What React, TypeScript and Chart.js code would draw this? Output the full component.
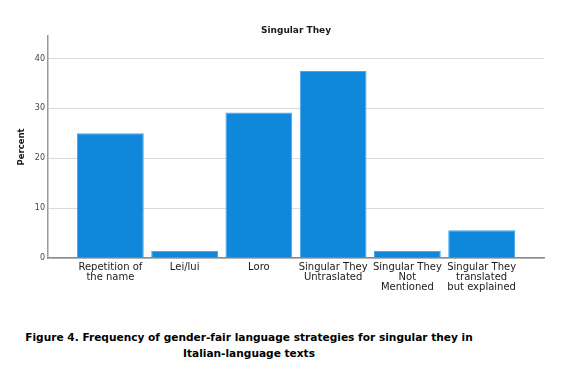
import React, { useEffect, useRef } from "react";
import { Chart, registerables } from "chart.js";

Chart.register(...registerables);

const categories: string[][] = [
  ["Repetition of", "the name"],
  ["Lei/lui"],
  ["Loro"],
  ["Singular They", "Untraslated"],
  ["Singular They", "Not", "Mentioned"],
  ["Singular They", "translated", "but explained"],
];
const percentValues: number[] = [25.0, 1.39, 29.17, 37.5, 1.39, 5.56];
const yTicks: number[] = [0, 10, 20, 30, 40];
const chartTitle = "Singular They";
const yAxisTitle = "Percent";
const captionLines = [
  "Figure 4. Frequency of gender-fair language strategies for singular they in",
  "Italian-language texts",
];

const titlePlugin = {
  id: "centerTitle",
  afterDraw(chart: any) {
    const { ctx, chartArea } = chart;
    ctx.save();
    ctx.font = "bold 9px 'DejaVu Sans'";
    ctx.fillStyle = "#1a1a1a";
    ctx.textAlign = "center";
    ctx.textBaseline = "middle";
    ctx.fillText(chartTitle, (chartArea.left + chartArea.right) / 2, 30.5);
    ctx.restore();
  },
};

export default function App() {
  const ref = useRef<HTMLCanvasElement | null>(null);
  useEffect(() => {
    if (!ref.current) return;
    const chart = new Chart(ref.current, {
      type: "bar",
      data: {
        datasets: [
          {
            data: percentValues.map((v, i) => ({ x: i, y: v })),
            backgroundColor: "#0f88dc",
            borderColor: "#4aa6e8",
            borderWidth: 1,
            categoryPercentage: 1,
            barPercentage: 0.9,
          },
        ],
      },
      options: {
        animation: false,
        responsive: false,
        maintainAspectRatio: false,
        layout: { padding: { left: 0, right: 37, top: 36, bottom: 0 } },
        plugins: {
          legend: { display: false },
          tooltip: { enabled: false },
          title: { display: false },
        },
        scales: {
          x: {
            type: "linear",
            min: -0.84,
            max: 5.84,
            offset: false,
            grid: { display: false, drawTicks: false },
            border: { display: true, color: "#8a8a8a", width: 1.5 },
            ticks: {
              stepSize: 1,
              includeBounds: false,
              autoSkip: false,
              maxRotation: 0,
              minRotation: 0,
              padding: 4,
              color: "#1a1a1a",
              font: { family: "'DejaVu Sans'", size: 10, lineHeight: 1.0 },
              callback: (v: any) =>
                Number.isInteger(v) && categories[v] ? categories[v] : "",
            },
            afterFit: (s: any) => {
              s.height = 42;
            },
          },
          y: {
            min: 0,
            max: 44.5,
            grid: { color: "#dadada", lineWidth: 1, drawTicks: false },
            border: { display: true, color: "#9a9a9a", width: 1.5 },
            ticks: {
              stepSize: 10,
              includeBounds: false,
              padding: 3,
              color: "#444",
              font: { family: "'DejaVu Sans'", size: 8 },
              callback: (v: any) => (yTicks.includes(v) ? String(v) : ""),
            },
            title: {
              display: true,
              text: yAxisTitle,
              color: "#1a1a1a",
              font: { family: "'DejaVu Sans'", size: 8.5, weight: "bold" },
              padding: { top: 17, bottom: 0 },
            },
            afterFit: (s: any) => {
              s.width = 48;
            },
          },
        },
      },
      plugins: [titlePlugin],
    });
    return () => chart.destroy();
  }, []);

  return (
    <div style={{ position: "fixed", left: 0, top: 0, width: 581, height: 369, background: "#fff" }}>
      <canvas ref={ref} width={581} height={300} style={{ position: "absolute", left: 0, top: 0 }} />
      <div
        style={{
          position: "absolute",
          left: 0,
          top: 329,
          width: 498,
          textAlign: "center",
          fontFamily: "'DejaVu Sans'",
          fontWeight: "bold",
          fontSize: 10.6,
          lineHeight: "16px",
          color: "#000",
          whiteSpace: "nowrap",
        }}
      >
        {captionLines.map((l, i) => (
          <div key={i}>{l}</div>
        ))}
      </div>
    </div>
  );
}
